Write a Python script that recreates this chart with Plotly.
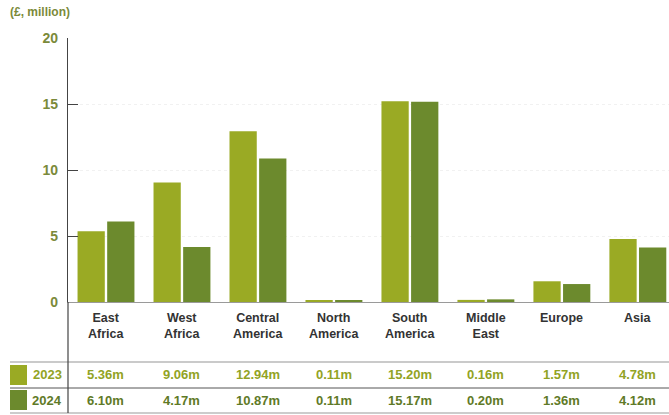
import plotly.graph_objects as go

# Regional funding, £ million
regions = ["East Africa", "West Africa", "Central America", "North America",
           "South America", "Middle East", "Europe", "Asia"]
region_labels = ["East<br>Africa", "West<br>Africa", "Central<br>America", "North<br>America",
                 "South<br>America", "Middle<br>East", "Europe", "Asia"]
values_2023 = [5.36, 9.06, 12.94, 0.11, 15.20, 0.16, 1.57, 4.78]
values_2024 = [6.10, 4.17, 10.87, 0.11, 15.17, 0.20, 1.36, 4.12]
years = ["2023", "2024"]
y_ticks = [0, 5, 10, 15, 20]

C23 = "#9aaa24"
C24 = "#6c8a2d"
TXT23 = "#92a324"
TXT24 = "#5f7a27"
OLIVE = "#7b8a3a"
FONT = "Liberation Sans Narrow, Arial Narrow, Liberation Sans, Arial, sans-serif"

W, H = 669, 415
ML, MT, MB = 68, 38, 113
PLOT_W = W - ML
PLOT_H = H - MT - MB
x_idx = list(range(len(regions)))


def ypaper(py):
    """Convert a pixel row in the figure to paper coordinates."""
    return (H - MB - py) / PLOT_H


def xpaper(px):
    """Convert a pixel column in the figure to paper coordinates."""
    return (px - ML) / PLOT_W


fig = go.Figure()
fig.add_trace(go.Bar(x=x_idx, y=values_2023, name=years[0], marker_color=C23,
                     marker_line_width=0))
fig.add_trace(go.Bar(x=x_idx, y=values_2024, name=years[1], marker_color=C24,
                     marker_line_width=0))

annotations = []
# category names under the bars
for i, lab in enumerate(region_labels):
    annotations.append(dict(x=i, y=0, xref="x", yref="paper", yshift=-7,
                            yanchor="top", xanchor="center", showarrow=False,
                            text=f"<b>{lab}</b>",
                            font=dict(family=FONT, size=12.5, color="#333333")))

# value table rows with legend swatches
rows = [(years[0], values_2023, C23, TXT23, 375),
        (years[1], values_2024, C24, TXT24, 400)]
shapes = []
for year, vals, col, tcol, py in rows:
    for i, v in enumerate(vals):
        annotations.append(dict(x=i, y=ypaper(py), xref="x", yref="paper",
                                xanchor="center", yanchor="middle", showarrow=False,
                                text=f"<b>{v:.2f}m</b>",
                                font=dict(family=FONT, size=13, color=tcol)))
    annotations.append(dict(x=xpaper(47), y=ypaper(py), xref="paper", yref="paper",
                            xanchor="center", yanchor="middle", showarrow=False,
                            text=f"<b>{year}</b>",
                            font=dict(family=FONT, size=13, color=tcol)))
    shapes.append(dict(type="rect", xref="paper", yref="paper",
                       x0=xpaper(10), x1=xpaper(27),
                       y0=ypaper(py + 10), y1=ypaper(py - 10),
                       fillcolor=col, line_width=0))

# axis title
annotations.append(dict(x=xpaper(8), y=ypaper(12), xref="paper", yref="paper",
                        xanchor="left", yanchor="middle", showarrow=False,
                        text="<b>(£, million)</b>",
                        font=dict(family=FONT, size=12, color=OLIVE)))

# table rules
shapes += [
    dict(type="line", xref="paper", yref="paper", x0=xpaper(10), x1=1,
         y0=ypaper(362), y1=ypaper(362), line=dict(color="#b8b8b8", width=1.5)),
    dict(type="line", xref="paper", yref="paper", x0=xpaper(10), x1=1,
         y0=ypaper(388), y1=ypaper(388), line=dict(color="#555555", width=1)),
    dict(type="line", xref="paper", yref="paper", x0=xpaper(10), x1=1,
         y0=ypaper(413), y1=ypaper(413), line=dict(color="#999999", width=1)),
    # axis line continued through the table
    dict(type="line", xref="paper", yref="paper", x0=0, x1=0,
         y0=0, y1=ypaper(413), line=dict(color="#444444", width=1.2)),
]

fig.update_layout(
    width=W, height=H,
    margin=dict(l=ML, r=0, t=MT, b=MB),
    paper_bgcolor="white", plot_bgcolor="white",
    barmode="group", bargap=0.22, bargroupgap=0.08,
    showlegend=False,
    annotations=annotations,
    shapes=shapes,
    xaxis=dict(range=[-0.5, 7.41], showticklabels=False, ticks="",
               showgrid=False, zeroline=False, showline=True,
               linecolor="#9a9a9a", linewidth=1),
    yaxis=dict(range=[0, 20], tickvals=y_ticks,
               ticktext=[f"<b>{t}</b>" for t in y_ticks],
               tickfont=dict(family=FONT, size=14, color=OLIVE),
               ticks="inside", ticklen=10, tickcolor="#444444", tickwidth=1,
               ticklabelstandoff=6,
               showline=True, linecolor="#444444", linewidth=1.2,
               showgrid=True, gridcolor="#f1f1f1", griddash="dot", gridwidth=1,
               zeroline=False),
    font=dict(family=FONT),
)

fig.write_html("out.html")
